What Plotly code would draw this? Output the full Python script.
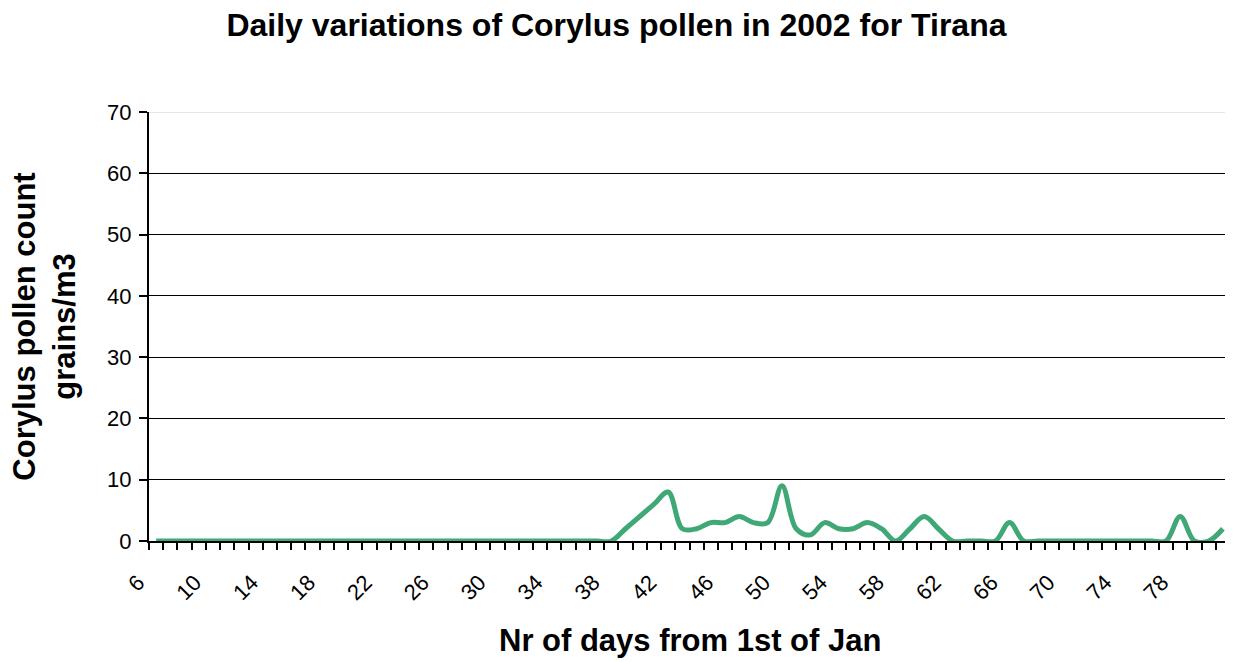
#daily corylus pollen counts for tirana 2002, redrawn as a plotly line chart
#%%
import plotly.graph_objects as go

#data: one value per day, counted from 1st of jan
days = list(range(6, 82))
pollen_zero_until_38 = [0] * 33  #days 6..38 are all zero
pollen_39_to_81 = [2, 4, 6, 8, 2, 2, 3, 3, 4, 3, 3, 9, 2, 1, 3, 2, 2, 3, 2, 0,
                   2, 4, 2, 0, 0, 0, 0, 3, 0, 0, 0, 0, 0, 0, 0, 0, 0, 0, 0, 4,
                   0, 0, 2]
pollen = pollen_zero_until_38 + pollen_39_to_81

x_tick_labels = list(range(6, 82, 4))  #only every 4th day is labelled
y_ticks = [0, 10, 20, 30, 40, 50, 60, 70]

title = 'Daily variations of Corylus pollen in 2002 for Tirana'
x_title = 'Nr of days from 1st of Jan'
y_title = 'Corylus pollen count<br>grains/m3'

font_family = 'Liberation Sans, Arial, sans-serif'
line_colour = '#3fa876'

#the html page has an 8px body margin, so the figure is made 8px smaller and shifted margins accordingly
page_offset = 8

#%%
fig = go.Figure()
fig.add_trace(go.Scatter(x=days, y=pollen, mode='lines',
                         line=dict(color=line_colour, width=5, shape='spline', smoothing=1.0),
                         showlegend=False))

fig.update_layout(
    width=1233 - page_offset, height=662 - page_offset,
    margin=dict(l=149 - page_offset, r=3, t=112 - page_offset, b=121, autoexpand=False),
    paper_bgcolor='white', plot_bgcolor='white',
    font=dict(family=font_family, color='black', size=22),
    title=dict(text='<b>' + title + '</b>', x=0.4967, xanchor='center', xref='container',
               y=0.974, yanchor='middle', yref='container',
               font=dict(size=32, color='black')),
)

#x axis: labels every 4 days, small ticks between every day (like excel category axis)
fig.update_xaxes(range=[5.5, 81.5], tickmode='array', tickvals=x_tick_labels,
                 ticktext=[str(v) for v in x_tick_labels], tickangle=-45,
                 ticks='', showgrid=False, zeroline=False,
                 showline=True, linecolor='black', linewidth=2, layer='below traces',
                 ticklabelstandoff=18, ticklabelshift=-18,
                 minor=dict(ticks='outside', ticklen=7, tickwidth=2, tickcolor='black',
                            tick0=5.5, dtick=1, showgrid=False))

fig.update_yaxes(range=[0, 70], tickmode='array', tickvals=y_ticks,
                 ticks='outside', ticklen=8, tickwidth=2, tickcolor='black',
                 showgrid=True, gridcolor='black', gridwidth=1, zeroline=False,
                 showline=True, linecolor='black', linewidth=2, layer='below traces',
                 ticklabelstandoff=3)

#top gridline is only a faint border in the original
fig.add_shape(type='line', xref='paper', x0=0, x1=1, yref='y', y0=y_ticks[-1], y1=y_ticks[-1],
              line=dict(color='#e6e6e6', width=2), layer='above')

#axis titles as annotations so they sit where the original has them
fig.add_annotation(text='<b>' + x_title + '</b>', xref='paper', x=0.5, xanchor='center',
                   yref='paper', y=-0.231, yanchor='middle', showarrow=False,
                   font=dict(size=31))
fig.add_annotation(text='<b>' + y_title + '</b>', xref='paper', x=-0.097, xanchor='center',
                   yref='paper', y=0.5, yanchor='middle', showarrow=False, textangle=-90,
                   font=dict(size=31))

fig.write_html('out.html')
